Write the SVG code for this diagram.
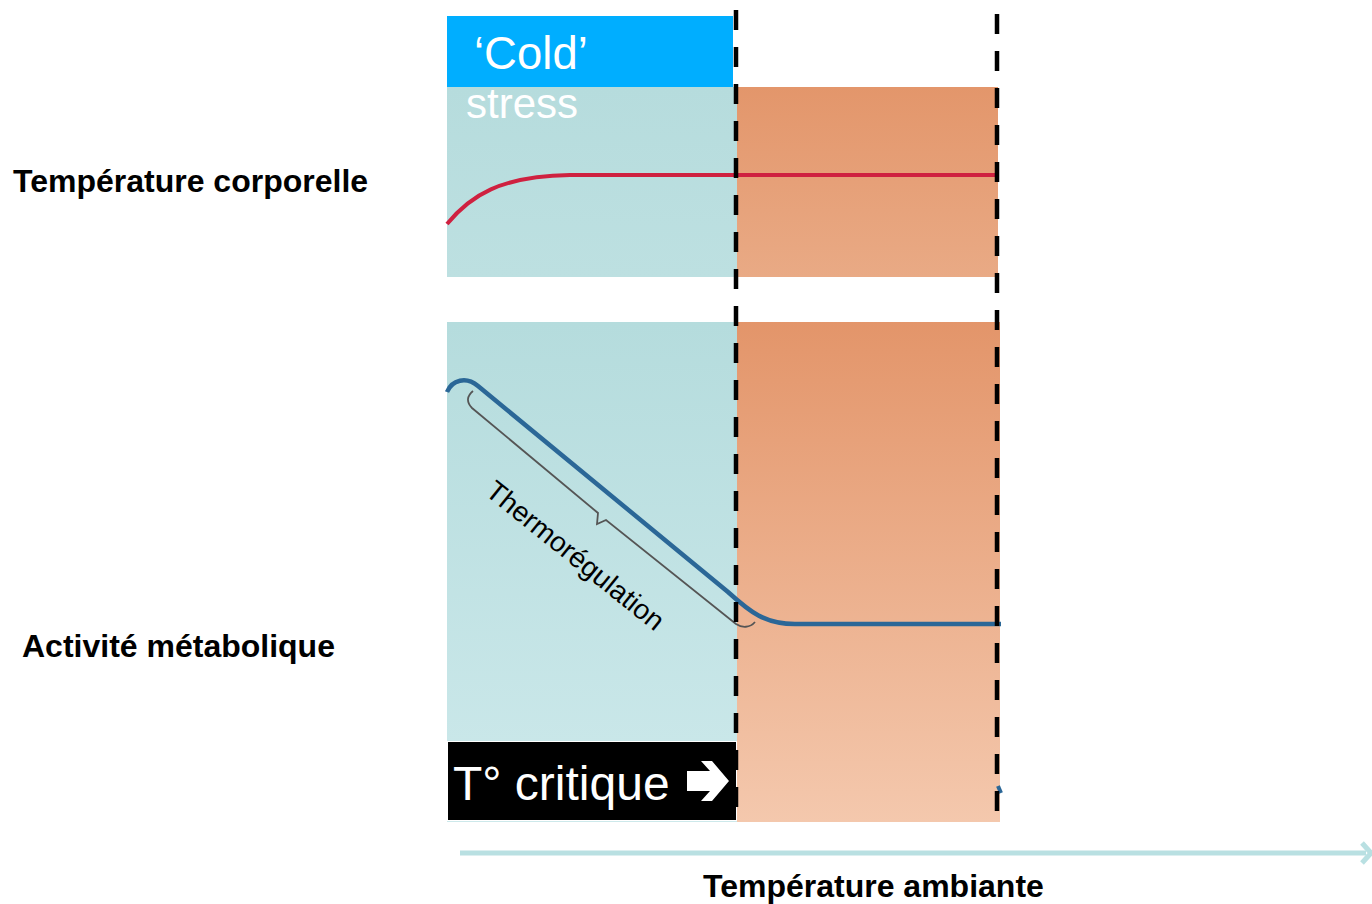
<svg xmlns="http://www.w3.org/2000/svg" width="1372" height="904" viewBox="0 0 1372 904">
<defs>
<linearGradient id="tealTop" x1="0" y1="0" x2="0" y2="1"><stop offset="0" stop-color="#B6DCDD"/><stop offset="1" stop-color="#BDE0E1"/></linearGradient>
<linearGradient id="orTop" x1="0" y1="0" x2="0" y2="1"><stop offset="0" stop-color="#E3966B"/><stop offset="1" stop-color="#E9AA85"/></linearGradient>
<linearGradient id="tealBot" x1="0" y1="0" x2="0" y2="1"><stop offset="0" stop-color="#B5DCDD"/><stop offset="1" stop-color="#CDE9EB"/></linearGradient>
<linearGradient id="orBot" x1="0" y1="0" x2="0" y2="1"><stop offset="0" stop-color="#E3956A"/><stop offset="1" stop-color="#F4C8AD"/></linearGradient>
<filter id="sh" x="-5%" y="-100%" width="110%" height="400%"><feGaussianBlur stdDeviation="1.5"/></filter>
</defs>
<style>
.lbl{font-family:"Liberation Sans",Arial,sans-serif;font-weight:bold;font-size:32px;fill:#000}
.wt{font-family:"Liberation Sans",Arial,sans-serif;fill:#fff}
.dash{stroke:#000;stroke-width:4.5;stroke-dasharray:20 17;fill:none}
</style>
<rect width="1372" height="904" fill="#fff"/>
<g id="top-panel">
<rect x="447" y="87" width="290" height="190" fill="url(#tealTop)"/>
<rect x="737" y="87" width="261" height="190" fill="url(#orTop)"/>
<path d="M447,224 C470,196 500,176 570,175 L998,175" fill="none" stroke="#CF2140" stroke-width="4"/>
</g>
<g id="cold-box">
<rect x="447" y="16" width="286" height="71" fill="#00AEFF"/>
<text class="wt" x="474" y="69" font-size="45.5">‘Cold’</text>
<text class="wt" x="466" y="118" font-size="42">stress</text>
</g>
<g id="bottom-panel">
<rect x="447" y="322" width="290" height="500" fill="url(#tealBot)"/>
<rect x="737" y="322" width="263" height="500" fill="url(#orBot)"/>
<path d="M447,392 C452,380 466,376 478,386 L728,592 C750,612 765,624 795,624 L1001,624" fill="none" stroke="#2B6797" stroke-width="4.5"/>
<path d="M998,786 L1001,793" fill="none" stroke="#2B6797" stroke-width="4"/>
<path d="M473,391 C467,396 466,402 472,408 L598,513 L597,524 L606,520 L736,624 C742,628 750,628 755,622" fill="none" stroke="#555" stroke-width="1.8"/>
<text x="484" y="494" font-family="Liberation Sans, Arial, sans-serif" font-size="28" fill="#000" transform="rotate(38.9 484 494)">Thermorégulation</text>
</g>
<g id="critique-box">
<rect x="447.5" y="741.5" width="289" height="79" fill="#000" stroke="#fff" stroke-width="1"/>
<text class="wt" x="453" y="800" font-size="48">T° critique</text>
<path d="M687,771 L710,771 L701,761 L712,761 L729,781 L712,801 L701,801 L710,791 L687,791 Z" fill="#fff"/>
</g>
<g id="connectors">
<line class="dash" x1="736" y1="10" x2="736" y2="822"/>
<line class="dash" x1="997" y1="14" x2="997" y2="822"/>
<line x1="460" y1="857" x2="1366" y2="857" stroke="#888" stroke-width="5" filter="url(#sh)" opacity="0.6"/>
<line x1="460" y1="853" x2="1366" y2="853" stroke="#B9E0E2" stroke-width="5"/>
<path d="M1362,843 L1371,853 L1362,863" fill="none" stroke="#B9E0E2" stroke-width="5"/>
</g>
<g id="labels">
<text class="lbl" x="13" y="192">Température corporelle</text>
<text class="lbl" x="22" y="657">Activité métabolique</text>
<text class="lbl" x="703" y="897" style="font-family:'Liberation Sans Narrow','Liberation Sans',sans-serif;font-size:32px">Température ambiante</text>
</g>
</svg>
